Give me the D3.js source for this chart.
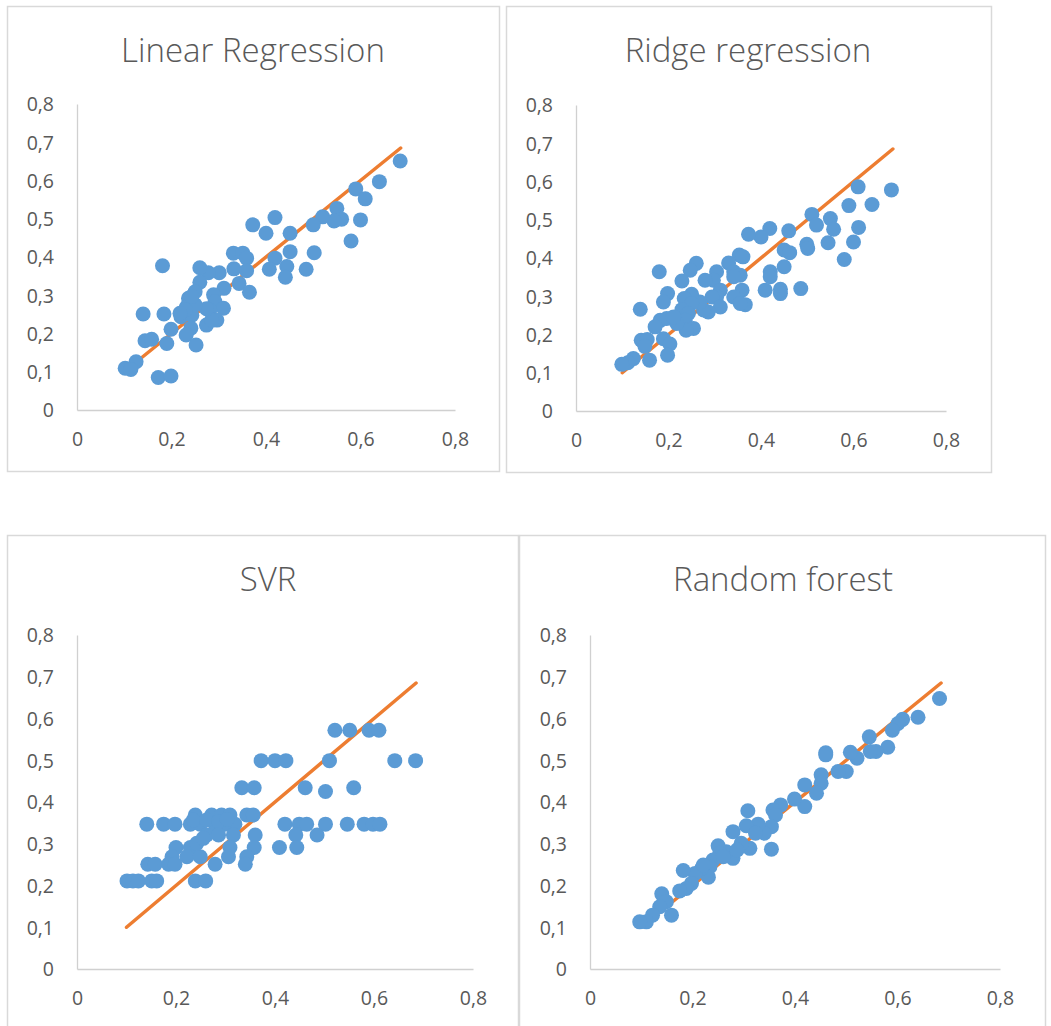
<!DOCTYPE html>
<html>
<head>
<meta charset="utf-8">
<script src="https://cdn.jsdelivr.net/npm/d3@7"></script>
<style>
  html, body { margin: 0; padding: 0; background: #ffffff; }
  svg { display: block; }
  text { font-family: "Open Sans", "DejaVu Sans", sans-serif; fill: #595959; }
</style>
</head>
<body>
<svg id="chart" width="1051" height="1026"></svg>
<script>
// ---------------- DATA ----------------
const titles = ["Linear Regression", "Ridge regression", "SVR", "Random forest"];
const xTickValues = [0, 0.2, 0.4, 0.6, 0.8];
const yTickValues = [0, 0.1, 0.2, 0.3, 0.4, 0.5, 0.6, 0.7, 0.8];
const refLine = [0.1, 0.685];

const linearActual = [0.684, 0.640, 0.590, 0.610, 0.550, 0.560, 0.544, 0.520, 0.500, 0.600, 0.580, 0.502, 0.485, 0.451, 0.451, 0.419, 0.400, 0.372, 0.419, 0.444, 0.441, 0.407, 0.331, 0.351, 0.359, 0.332, 0.359, 0.343, 0.365, 0.311, 0.301, 0.278, 0.260, 0.260, 0.250, 0.236, 0.289, 0.292, 0.310, 0.281, 0.296, 0.274, 0.232, 0.220, 0.243, 0.241, 0.231, 0.252, 0.199, 0.184, 0.190, 0.181, 0.140, 0.144, 0.158, 0.125, 0.102, 0.114, 0.172, 0.199, 0.285, 0.274, 0.250, 0.243, 0.229, 0.218];
const linearPredicted = [0.651, 0.597, 0.578, 0.552, 0.527, 0.499, 0.494, 0.505, 0.484, 0.497, 0.442, 0.411, 0.368, 0.462, 0.414, 0.503, 0.462, 0.484, 0.397, 0.375, 0.347, 0.368, 0.410, 0.410, 0.397, 0.369, 0.364, 0.331, 0.308, 0.318, 0.359, 0.359, 0.372, 0.334, 0.309, 0.292, 0.301, 0.283, 0.266, 0.261, 0.235, 0.222, 0.270, 0.244, 0.248, 0.214, 0.196, 0.170, 0.211, 0.251, 0.174, 0.377, 0.251, 0.181, 0.185, 0.126, 0.109, 0.106, 0.085, 0.089, 0.235, 0.265, 0.275, 0.297, 0.262, 0.253];

const ridgeActual = [0.682, 0.610, 0.590, 0.640, 0.611, 0.600, 0.580, 0.550, 0.557, 0.545, 0.510, 0.520, 0.499, 0.501, 0.460, 0.450, 0.462, 0.450, 0.486, 0.442, 0.442, 0.420, 0.420, 0.409, 0.419, 0.400, 0.373, 0.353, 0.361, 0.330, 0.341, 0.355, 0.341, 0.359, 0.341, 0.366, 0.355, 0.304, 0.297, 0.279, 0.312, 0.304, 0.294, 0.312, 0.286, 0.276, 0.268, 0.260, 0.247, 0.229, 0.250, 0.234, 0.250, 0.229, 0.243, 0.236, 0.254, 0.238, 0.180, 0.198, 0.189, 0.196, 0.182, 0.171, 0.189, 0.203, 0.198, 0.139, 0.141, 0.154, 0.149, 0.159, 0.124, 0.112, 0.099, 0.218, 0.211];
const ridgePredicted = [0.578, 0.586, 0.537, 0.540, 0.480, 0.442, 0.396, 0.503, 0.475, 0.440, 0.514, 0.486, 0.436, 0.425, 0.471, 0.421, 0.414, 0.377, 0.320, 0.318, 0.307, 0.364, 0.351, 0.316, 0.477, 0.455, 0.462, 0.408, 0.403, 0.387, 0.364, 0.355, 0.351, 0.316, 0.298, 0.278, 0.281, 0.364, 0.342, 0.342, 0.316, 0.298, 0.298, 0.272, 0.259, 0.264, 0.285, 0.386, 0.368, 0.340, 0.305, 0.294, 0.281, 0.265, 0.255, 0.237, 0.216, 0.211, 0.364, 0.307, 0.285, 0.242, 0.237, 0.220, 0.189, 0.175, 0.146, 0.266, 0.185, 0.187, 0.169, 0.133, 0.137, 0.126, 0.122, 0.229, 0.246];

const svrActual = [0.521, 0.551, 0.590, 0.610, 0.372, 0.400, 0.422, 0.510, 0.642, 0.684, 0.333, 0.358, 0.461, 0.559, 0.502, 0.239, 0.272, 0.292, 0.309, 0.343, 0.356, 0.141, 0.175, 0.198, 0.229, 0.249, 0.279, 0.299, 0.319, 0.420, 0.449, 0.464, 0.502, 0.546, 0.580, 0.598, 0.612, 0.235, 0.262, 0.286, 0.303, 0.262, 0.286, 0.316, 0.360, 0.442, 0.485, 0.200, 0.229, 0.309, 0.358, 0.409, 0.444, 0.192, 0.222, 0.249, 0.306, 0.343, 0.143, 0.158, 0.185, 0.198, 0.279, 0.340, 0.101, 0.113, 0.124, 0.151, 0.161, 0.239, 0.260, 0.242, 0.255];
const svrPredicted = [0.572, 0.572, 0.572, 0.572, 0.499, 0.499, 0.499, 0.499, 0.499, 0.499, 0.434, 0.434, 0.434, 0.434, 0.425, 0.369, 0.369, 0.369, 0.369, 0.369, 0.369, 0.347, 0.347, 0.347, 0.347, 0.347, 0.347, 0.347, 0.347, 0.347, 0.347, 0.347, 0.347, 0.347, 0.347, 0.347, 0.347, 0.357, 0.357, 0.353, 0.358, 0.321, 0.321, 0.321, 0.321, 0.321, 0.321, 0.291, 0.291, 0.291, 0.291, 0.291, 0.291, 0.269, 0.269, 0.269, 0.269, 0.269, 0.251, 0.251, 0.251, 0.251, 0.251, 0.251, 0.211, 0.211, 0.211, 0.211, 0.211, 0.211, 0.211, 0.301, 0.313];

const forestActual = [0.682, 0.640, 0.610, 0.601, 0.590, 0.581, 0.558, 0.547, 0.545, 0.521, 0.508, 0.500, 0.484, 0.460, 0.460, 0.451, 0.451, 0.442, 0.419, 0.419, 0.399, 0.372, 0.357, 0.362, 0.354, 0.354, 0.340, 0.328, 0.308, 0.305, 0.312, 0.295, 0.279, 0.279, 0.266, 0.250, 0.253, 0.240, 0.234, 0.231, 0.218, 0.205, 0.198, 0.182, 0.188, 0.175, 0.140, 0.149, 0.159, 0.136, 0.122, 0.110, 0.097, 0.221, 0.260, 0.287, 0.323];
const forestPredicted = [0.648, 0.603, 0.598, 0.588, 0.572, 0.531, 0.521, 0.521, 0.556, 0.505, 0.519, 0.473, 0.473, 0.518, 0.513, 0.465, 0.445, 0.421, 0.441, 0.389, 0.407, 0.393, 0.381, 0.369, 0.341, 0.287, 0.325, 0.347, 0.379, 0.343, 0.289, 0.301, 0.329, 0.265, 0.281, 0.295, 0.277, 0.261, 0.245, 0.220, 0.241, 0.229, 0.205, 0.236, 0.193, 0.187, 0.180, 0.161, 0.129, 0.149, 0.129, 0.113, 0.113, 0.249, 0.269, 0.285, 0.325];

const seriesActual = [linearActual, ridgeActual, svrActual, forestActual];
const seriesPredicted = [linearPredicted, ridgePredicted, svrPredicted, forestPredicted];

// ---------------- LAYOUT ----------------
const panels = [
  { box: [7, 6, 499, 471],    plot: [77, 455, 410, 104],  titleX: 253, titleY: 49 },
  { box: [506, 6, 991, 472],  plot: [576, 946, 411, 105], titleX: 748, titleY: 49 },
  { box: [7, 535, 518, 1040], plot: [77, 473, 969, 635],  titleX: 268, titleY: 578 },
  { box: [519, 535, 1045, 1040], plot: [590, 1000, 969, 635], titleX: 783, titleY: 578 }
];

const locale = d3.formatLocale({ decimal: ",", thousands: ".", grouping: [3], currency: ["", ""] });
const fmt = v => v === 0 ? "0" : locale.format(".1f")(v);

const svg = d3.select("#chart");

panels.forEach((p, i) => {
  const g = svg.append("g");
  const [bx0, by0, bx1, by1] = p.box;
  g.append("rect")
    .attr("x", bx0 + 0.5).attr("y", by0 + 0.5)
    .attr("width", bx1 - bx0).attr("height", by1 - by0)
    .attr("fill", "#ffffff").attr("stroke", "#d9d9d9").attr("stroke-width", 1.5);

  const [px0, px1, py0, py1] = p.plot;
  const x = d3.scaleLinear().domain([0, 0.8]).range([px0, px1]);
  const y = d3.scaleLinear().domain([0, 0.8]).range([py0, py1]);

  // title
  g.append("text")
    .attr("x", p.titleX).attr("y", p.titleY)
    .attr("text-anchor", "middle").attr("dominant-baseline", "central")
    .style("font-size", "33px").style("font-weight", 300)
    .text(titles[i]);

  // axes
  const xAxis = d3.axisBottom(x).tickValues(xTickValues).tickFormat(fmt).tickSize(0).tickPadding(22);
  const yAxis = d3.axisLeft(y).tickValues(yTickValues).tickFormat(fmt).tickSize(0).tickPadding(23);

  const gx = g.append("g").attr("transform", `translate(0,${py0})`).call(xAxis);
  const gy = g.append("g").attr("transform", `translate(${px0},0)`).call(yAxis);
  [gx, gy].forEach(a => {
    a.select(".domain").attr("stroke", "#d0d0d0").attr("stroke-width", 1.3);
    a.selectAll("text").style("font-size", "19.5px").attr("fill", "#595959")
      .style("font-family", "'Open Sans', sans-serif");
  });
  gy.selectAll("text").attr("dy", "0.35em");

  // reference line
  g.append("line")
    .attr("x1", x(refLine[0])).attr("y1", y(refLine[0]))
    .attr("x2", x(refLine[1])).attr("y2", y(refLine[1]))
    .attr("stroke", "#ed7d31").attr("stroke-width", 3.5).attr("stroke-linecap", "round");

  // points
  const data = seriesActual[i].map((a, k) => ({ a, p: seriesPredicted[i][k] }));
  g.append("g").selectAll("circle").data(data).join("circle")
    .attr("cx", d => x(d.a)).attr("cy", d => y(d.p))
    .attr("r", 7.5).attr("fill", "#5b9bd5");
});
</script>
</body>
</html>
